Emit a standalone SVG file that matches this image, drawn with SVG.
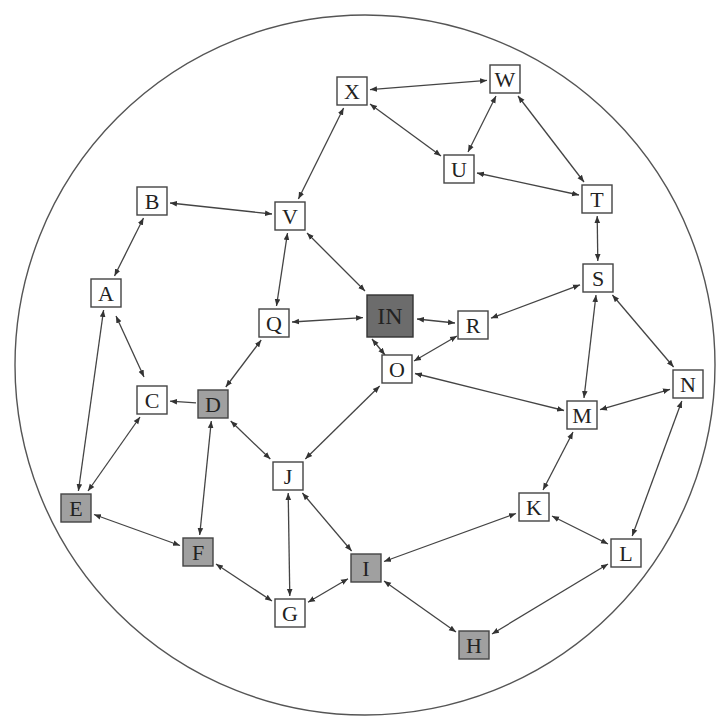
<svg xmlns="http://www.w3.org/2000/svg" width="717" height="717" viewBox="0 0 717 717">
<defs>
<marker id="ah" viewBox="0 0 10 10" refX="10" refY="5" markerWidth="7" markerHeight="7" markerUnits="userSpaceOnUse" orient="auto-start-reverse">
<path d="M0,1 L10,5 L0,9 Z" fill="#333"/>
</marker>
<style>
.e{stroke:#444;stroke-width:1.3;fill:none;marker-start:url(#ah);marker-end:url(#ah)}
.s{stroke:#444;stroke-width:1.3;fill:none;marker-end:url(#ah)}
.b{fill:#fff;stroke:#444;stroke-width:1.4}
.g{fill:#a0a0a0;stroke:#444;stroke-width:1.4}
.d{fill:#6c6c6c;stroke:#333;stroke-width:1.4}
text{font-family:"Liberation Serif","DejaVu Serif",serif;font-size:22px;fill:#222;text-anchor:middle}
</style>
</defs>
<rect width="717" height="717" fill="#fff"/>
<circle cx="365" cy="365" r="350" fill="none" stroke="#555" stroke-width="1.4"/>
<g id="connectors">
<line class="e" x1="370" y1="89.6" x2="487" y2="80.4"/>
<line class="e" x1="370" y1="104" x2="441" y2="156"/>
<line class="e" x1="496" y1="96" x2="468" y2="152"/>
<line class="e" x1="518" y1="96" x2="584" y2="182"/>
<line class="e" x1="477" y1="173" x2="579" y2="195"/>
<line class="e" x1="343.6" y1="108" x2="298.4" y2="199"/>
<line class="e" x1="272" y1="214" x2="170" y2="203"/>
<line class="e" x1="287.5" y1="233" x2="276.5" y2="306"/>
<line class="e" x1="307" y1="233" x2="365" y2="291"/>
<line class="e" x1="143.5" y1="218" x2="114.5" y2="276"/>
<line class="e" x1="116" y1="316" x2="144" y2="377"/>
<line class="e" x1="103.6" y1="310" x2="78.4" y2="491"/>
<line class="e" x1="292" y1="322" x2="363" y2="317.6"/>
<line class="e" x1="417" y1="319" x2="455" y2="323"/>
<line class="e" x1="372" y1="339" x2="385" y2="355"/>
<line class="e" x1="457" y1="336" x2="414" y2="361"/>
<line class="e" x1="580" y1="284.8" x2="491" y2="318.2"/>
<line class="e" x1="597.2" y1="216" x2="597.8" y2="261"/>
<line class="e" x1="596" y1="295" x2="584" y2="398"/>
<line class="e" x1="612.4" y1="295" x2="673.6" y2="367"/>
<line class="e" x1="415" y1="373.5" x2="564" y2="410.5"/>
<line class="e" x1="600" y1="409.7" x2="670" y2="389.3"/>
<line class="e" x1="681.8" y1="401" x2="632.2" y2="536"/>
<line class="e" x1="573" y1="432" x2="543" y2="490"/>
<line class="e" x1="552" y1="516" x2="608" y2="544"/>
<line class="e" x1="516" y1="513.5" x2="384" y2="561.5"/>
<line class="e" x1="608" y1="564" x2="492" y2="634"/>
<line class="e" x1="384" y1="581" x2="456" y2="632"/>
<line class="e" x1="351.6" y1="551" x2="302.4" y2="493"/>
<line class="e" x1="348" y1="578.7" x2="308" y2="602.3"/>
<line class="e" x1="288.2" y1="493" x2="289.8" y2="596"/>
<line class="e" x1="305.3" y1="459" x2="379.7" y2="386"/>
<line class="e" x1="230.7" y1="421" x2="270.3" y2="459"/>
<line class="e" x1="225.8" y1="387" x2="261.2" y2="340"/>
<line class="s" x1="196" y1="402.8" x2="170" y2="401.2"/>
<line class="e" x1="211.3" y1="421" x2="199.7" y2="535"/>
<line class="e" x1="140" y1="417" x2="88" y2="491"/>
<line class="e" x1="94" y1="514.5" x2="180" y2="545.5"/>
<line class="e" x1="216" y1="564" x2="272" y2="601"/>
</g>
<g id="X"><rect class="b" x="337" y="77" width="30" height="28"/><text x="352" y="99">X</text></g>
<g id="W"><rect class="b" x="490" y="65" width="30" height="28"/><text x="505" y="87">W</text></g>
<g id="U"><rect class="b" x="444" y="155" width="30" height="28"/><text x="459" y="177">U</text></g>
<g id="T"><rect class="b" x="582" y="185" width="30" height="28"/><text x="597" y="207">T</text></g>
<g id="B"><rect class="b" x="137" y="187" width="30" height="28"/><text x="152" y="209">B</text></g>
<g id="V"><rect class="b" x="275" y="202" width="30" height="28"/><text x="290" y="224">V</text></g>
<g id="A"><rect class="b" x="91" y="279" width="30" height="28"/><text x="106" y="301">A</text></g>
<g id="S"><rect class="b" x="583" y="264" width="30" height="28"/><text x="598" y="286">S</text></g>
<g id="Q"><rect class="b" x="259" y="309" width="30" height="28"/><text x="274" y="331">Q</text></g>
<g id="IN"><rect class="d" x="367" y="295" width="46" height="42"/><text x="390" y="324" style="font-size:24px">IN</text></g>
<g id="R"><rect class="b" x="458" y="311" width="30" height="28"/><text x="473" y="333">R</text></g>
<g id="O"><rect class="b" x="382" y="355" width="30" height="28"/><text x="397" y="377">O</text></g>
<g id="N"><rect class="b" x="673" y="370" width="30" height="28"/><text x="688" y="392">N</text></g>
<g id="C"><rect class="b" x="137" y="386" width="30" height="28"/><text x="152" y="408">C</text></g>
<g id="D"><rect class="g" x="198" y="390" width="30" height="28"/><text x="213" y="412">D</text></g>
<g id="M"><rect class="b" x="567" y="401" width="30" height="28"/><text x="582" y="423">M</text></g>
<g id="J"><rect class="b" x="273" y="462" width="30" height="28"/><text x="288" y="484">J</text></g>
<g id="K"><rect class="b" x="519" y="493" width="30" height="28"/><text x="534" y="515">K</text></g>
<g id="E"><rect class="g" x="61" y="494" width="30" height="28"/><text x="76" y="516">E</text></g>
<g id="L"><rect class="b" x="611" y="539" width="30" height="28"/><text x="626" y="561">L</text></g>
<g id="F"><rect class="g" x="183" y="538" width="30" height="28"/><text x="198" y="560">F</text></g>
<g id="I"><rect class="g" x="351" y="554" width="30" height="28"/><text x="366" y="576">I</text></g>
<g id="G"><rect class="b" x="275" y="599" width="30" height="28"/><text x="290" y="621">G</text></g>
<g id="H"><rect class="g" x="459" y="631" width="30" height="28"/><text x="474" y="653">H</text></g>
</svg>
